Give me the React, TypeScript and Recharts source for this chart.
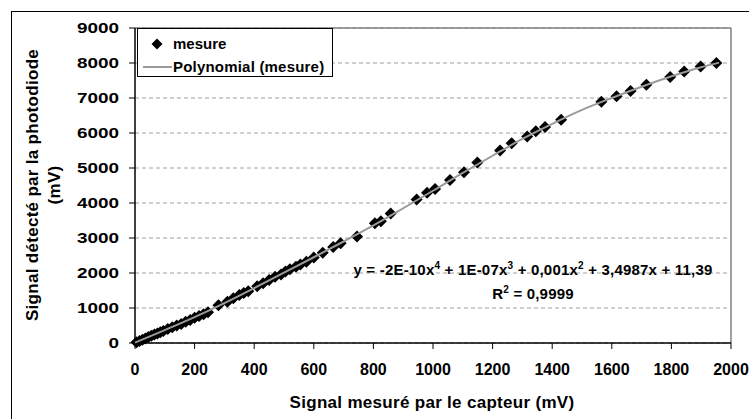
import React from 'react';
import { ScatterChart, Scatter, XAxis, YAxis, CartesianGrid, ReferenceLine } from 'recharts';

// measured points (signal capteur mV -> signal photodiode mV)
const mesureX = [
  5, 15, 25, 35, 45, 55, 65, 75, 85, 95, 110, 125, 140, 155, 170, 185, 200, 215, 230, 245,
  280, 310, 330, 350, 365, 380, 410, 430, 450, 470, 490, 505, 520, 540, 555, 575, 600, 630,
  665, 690, 745, 805, 825, 858, 945, 980, 1007, 1057, 1104, 1149, 1225, 1264, 1316, 1345,
  1376, 1430, 1565, 1616, 1663, 1716, 1796, 1843, 1898, 1951,
];
const mesureY = [
  20, 60, 95, 130, 170, 205, 240, 275, 305, 345, 400, 450, 500, 545, 610, 660, 720, 770, 820, 880,
  1080, 1180, 1280, 1370, 1430, 1480, 1620, 1710, 1800, 1890, 1960, 2040, 2110, 2180, 2240, 2320, 2440, 2580,
  2740, 2850, 3040, 3420, 3480, 3700, 4100, 4290, 4400, 4660, 4880, 5160, 5500, 5710, 5900, 6050,
  6170, 6380, 6890, 7050, 7200, 7380, 7600, 7760, 7900, 8000,
];

// polynomial trendline
const trendX = [0, 100, 200, 300, 400, 500, 600, 700, 800, 900, 1000, 1100, 1200, 1300, 1400, 1500, 1600, 1700, 1800, 1900, 1960];
const trendY = [10, 370, 740, 1140, 1570, 2010, 2450, 2900, 3360, 3850, 4350, 4860, 5350, 5830, 6260, 6660, 7000, 7320, 7620, 7880, 8010];

const xTicks = [0, 200, 400, 600, 800, 1000, 1200, 1400, 1600, 1800, 2000];
const yTicks = [0, 1000, 2000, 3000, 4000, 5000, 6000, 7000, 8000, 9000];

const mesure = mesureX.map((x, i) => ({ x, y: mesureY[i] }));
const trend = trendX.map((x, i) => ({ x, y: trendY[i] }));

const FONT = '"Liberation Sans", Arial, sans-serif';

const Diamond = (props: any) => {
  const { cx, cy } = props;
  const r = 6;
  return <path d={`M${cx},${cy - r}L${cx + r},${cy}L${cx},${cy + r}L${cx - r},${cy}Z`} fill="#000" />;
};

const YTick = (props: any) => {
  const { x, y, payload } = props;
  const s = String(payload.value);
  return (
    <text x={x} y={y} dy={5} textAnchor="end" fontSize={15} fontWeight="bold" fill="#000" fontFamily={FONT}
      textLength={s.length * 10.5} lengthAdjust="spacingAndGlyphs">
      {s}
    </text>
  );
};

const XTick = (props: any) => {
  const { x, y, payload } = props;
  return (
    <text x={x} y={y} dy={16} textAnchor="middle" fontSize={16} fontWeight="bold" fill="#000" fontFamily={FONT}>
      {payload.value}
    </text>
  );
};

const sup = { fontSize: 10 };

const App = () => {
  return (
    <div style={{ position: 'fixed', left: 0, top: 0, width: 749, height: 419, overflow: 'hidden', background: '#fff', fontFamily: FONT }}>
      <div style={{ position: 'absolute', left: 11, top: 11, width: 900, height: 600, border: '1px solid #000' }} />
      <div style={{ position: 'absolute', left: 0, top: 0 }}>
        <ScatterChart width={749} height={419} margin={{ top: 28, right: 18, bottom: 0, left: 0 }}>
          <CartesianGrid vertical={false} stroke="#a0a0a0" strokeDasharray="4 3" />
          <XAxis
            type="number"
            dataKey="x"
            domain={[0, 2000]}
            ticks={xTicks}
            height={76}
            tickSize={6}
            tickMargin={10}
            tick={<XTick />}
            axisLine={{ stroke: '#000', strokeWidth: 1.5 }}
            tickLine={{ stroke: '#000' }}
          />
          <YAxis
            type="number"
            dataKey="y"
            domain={[0, 9000]}
            ticks={yTicks}
            width={135}
            tickSize={6}
            tickMargin={10}
            tick={<YTick />}
            axisLine={{ stroke: '#000', strokeWidth: 1.5 }}
            tickLine={{ stroke: '#000' }}
          />
          <ReferenceLine y={9000} stroke="#808080" strokeWidth={1.5} />
          <ReferenceLine x={2000} stroke="#808080" strokeWidth={1.5} />
          <Scatter name="mesure" data={mesure} shape={<Diamond />} isAnimationActive={false} />
          <Scatter
            name="Polynomial (mesure)"
            data={trend}
            line={{ stroke: '#9a9a9a', strokeWidth: 2 }}
            lineJointType="monotoneX"
            shape={() => <g />}
            isAnimationActive={false}
          />
        </ScatterChart>
      </div>

      {/* y axis title */}
      <div style={{ position: 'absolute', left: 47 - 200, top: 185 - 25, width: 400, height: 50, transform: 'rotate(-90deg)', textAlign: 'center', fontWeight: 'bold', fontSize: 17, lineHeight: '22px', letterSpacing: 0.3 }}>
        Signal détecté par la photodiode<br />(mV)
      </div>

      {/* x axis title */}
      <div style={{ position: 'absolute', left: 432 - 200, top: 392, width: 400, textAlign: 'center', fontWeight: 'bold', fontSize: 17, lineHeight: '22px', letterSpacing: 0.3 }}>
        Signal mesuré par le capteur (mV)
      </div>

      {/* legend */}
      <div style={{ position: 'absolute', left: 137, top: 28, width: 194, height: 47, border: '1px solid #000', background: '#fff', fontWeight: 'bold', fontSize: 15 }}>
        <svg width={30} height={47} style={{ position: 'absolute', left: 4, top: 0 }}>
          <path d="M15,9.5L20.5,15L15,20.5L9.5,15Z" fill="#000" />
          <line x1={1} x2={30} y1={38} y2={38} stroke="#9a9a9a" strokeWidth={2} />
        </svg>
        <div style={{ position: 'absolute', left: 35, top: 5, lineHeight: '20px' }}>mesure</div>
        <div style={{ position: 'absolute', left: 35, top: 28, lineHeight: '20px', letterSpacing: 0.2 }}>Polynomial (mesure)</div>
      </div>

      {/* trendline equation */}
      <div style={{ position: 'absolute', left: 533 - 220, top: 256, width: 440, textAlign: 'center', fontWeight: 'bold', fontSize: 15, lineHeight: '20px', letterSpacing: 0.2 }}>
        <div>y = -2E-10x<sup style={sup}>4</sup> + 1E-07x<sup style={sup}>3</sup> + 0,001x<sup style={sup}>2</sup> + 3,4987x + 11,39</div>
        <div>R<sup style={sup}>2</sup> = 0,9999</div>
      </div>
    </div>
  );
};

export default App;
